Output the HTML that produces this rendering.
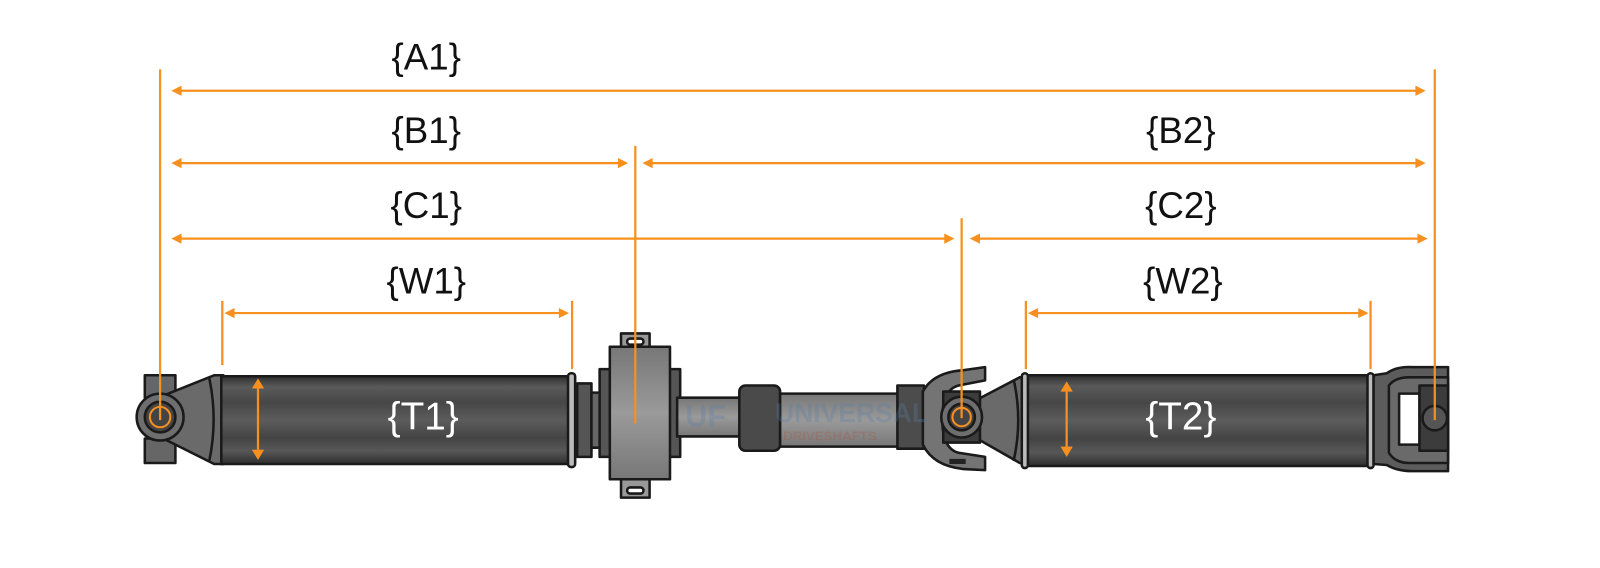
<!DOCTYPE html>
<html><head><meta charset="utf-8">
<style>
html,body{margin:0;padding:0;background:#fff;}
svg{display:block;}
text{font-family:"Liberation Sans",sans-serif;}
</style></head>
<body>
<svg width="1600" height="568" viewBox="0 0 1569 557" xmlns="http://www.w3.org/2000/svg">
<defs>
<linearGradient id="tube" x1="0" y1="0" x2="0" y2="1">
<stop offset="0" stop-color="#2e2e2e"/>
<stop offset="0.12" stop-color="#5a5a5a"/>
<stop offset="0.3" stop-color="#474747"/>
<stop offset="0.5" stop-color="#5c5c5c"/>
<stop offset="0.7" stop-color="#444"/>
<stop offset="0.85" stop-color="#575757"/>
<stop offset="1" stop-color="#2e2e2e"/>
</linearGradient>
<linearGradient id="lt" x1="0" y1="0" x2="0" y2="1">
<stop offset="0" stop-color="#777"/>
<stop offset="0.5" stop-color="#9a9a9a"/>
<stop offset="1" stop-color="#777"/>
</linearGradient>
</defs>

<g stroke="#1a1a1a" stroke-width="2.5" stroke-linejoin="round">
<rect x="142" y="368" width="30" height="22" fill="#666"/>
<rect x="142" y="430" width="30" height="24" fill="#666"/>
<polygon points="160,388 210,368 219,368 219,455 210,455 160,430" fill="#6a6a6a"/>
<path d="M205,370 Q214,411 205,453" fill="none"/>
<circle cx="157" cy="409" r="23" fill="#6e6e6e"/>
<circle cx="157" cy="409" r="15" fill="#444"/>
<circle cx="157" cy="409" r="10" fill="#444" stroke="#f7901e" stroke-width="2"/>
<rect x="217" y="369" width="344" height="86" fill="url(#tube)"/>
<rect x="557" y="366" width="7" height="92" rx="3" fill="#bbb"/>
<rect x="566" y="376" width="14" height="72" fill="#555"/>
<rect x="580" y="385" width="18" height="54" fill="#666"/>
<rect x="609" y="327" width="28" height="16" fill="#999"/>
<rect x="609" y="470" width="28" height="18" fill="#999"/>
<rect x="615" y="332" width="16" height="6" rx="3" fill="#fff"/>
<rect x="615" y="478" width="16" height="6" rx="3" fill="#fff"/>
<rect x="588" y="362" width="12" height="86" fill="#555"/>
<rect x="655" y="362" width="12" height="86" fill="#555"/>
<rect x="598" y="340" width="59" height="130" fill="url(#lt)"/>
<rect x="664" y="390" width="64" height="38" fill="url(#lt)"/>
<rect x="725" y="378" width="40" height="64" rx="6" fill="#4a4a4a"/>
<rect x="765" y="386" width="116" height="52" fill="url(#lt)"/>
<rect x="880" y="378" width="26" height="62" fill="#4c4c4c"/>
<path d="M905,384 Q915,365 945,363 L966,360 L966,373 L940,378 Q924,382 924,411 Q924,440 940,444 L966,448 L966,461 L945,460 Q915,457 905,436 Z" fill="#747474"/>
<rect x="931" y="450" width="16" height="5" fill="#222" stroke="none"/>
<polygon points="958,392 1000,370 1006,370 1006,454 1000,454 958,430" fill="#6a6a6a"/>
<path d="M994,372 Q1003,412 994,452" fill="none"/>
<rect x="925" y="384" width="36" height="50" fill="#3c3c3c"/>
<circle cx="943" cy="409" r="20" fill="#6e6e6e"/>
<circle cx="943" cy="409" r="13" fill="#444"/>
<circle cx="943" cy="409" r="9" fill="#444" stroke="#f7901e" stroke-width="2"/>
<rect x="1004" y="368" width="340" height="89" fill="url(#tube)"/>
<rect x="1002" y="366" width="6" height="93" rx="3" fill="#bbb"/>
<rect x="1341" y="366" width="6" height="93" rx="3" fill="#bbb"/>
<path d="M1347,368 L1360,366 Q1370,359 1385,360 L1420,360 L1420,462 L1385,462 Q1370,462 1360,456 L1347,455 Z" fill="#5c5c5c"/>
<path d="M1362,378 Q1368,370 1382,370 L1420,370 L1420,454 L1382,454 Q1368,454 1362,444 Z" fill="#6a6a6a"/>
<rect x="1372" y="386" width="20" height="50" fill="#fff"/>
<rect x="1392" y="378" width="28" height="64" fill="#3c3c3c"/>
<circle cx="1407" cy="410" r="12" fill="#555"/>
</g>

<text x="672" y="418" font-size="30" font-weight="bold" fill="#5b7fa8" opacity="0.3">UF</text>
<text x="760" y="414" font-size="26" font-weight="bold" fill="#5b7fa8" opacity="0.3">UNIVERSAL</text>
<text x="768" y="432" font-size="13" font-weight="bold" fill="#b05030" opacity="0.25">DRIVESHAFTS</text>

<text x="415" y="421" font-size="38" fill="#fff" text-anchor="middle">{T1}</text>
<text x="1158" y="421" font-size="38" fill="#fff" text-anchor="middle">{T2}</text>

<g stroke="#f7901e" stroke-width="2.2" fill="none">
<line x1="157" y1="68" x2="157" y2="412"/>
<line x1="1407" y1="68" x2="1407" y2="412"/>
<line x1="623" y1="143" x2="623" y2="415"/>
<line x1="943" y1="214" x2="943" y2="410"/>
<line x1="218" y1="295" x2="218" y2="358"/>
<line x1="561" y1="295" x2="561" y2="362"/>
<line x1="1006" y1="295" x2="1006" y2="362"/>
<line x1="1344" y1="295" x2="1344" y2="362"/>
<line x1="172" y1="89" x2="1394" y2="89"/>
<line x1="172" y1="160" x2="612" y2="160"/>
<line x1="634" y1="160" x2="1394" y2="160"/>
<line x1="172" y1="234" x2="932" y2="234"/>
<line x1="955" y1="234" x2="1396" y2="234"/>
<line x1="224" y1="307" x2="554" y2="307"/>
<line x1="1012" y1="307" x2="1338" y2="307"/>
<line x1="253" y1="376" x2="253" y2="446"/>
<line x1="1046" y1="379" x2="1046" y2="443"/>
</g>
<g fill="#f7901e">
<polygon points="168,89 178,84 178,94"/><polygon points="1398,89 1388,84 1388,94"/>
<polygon points="168,160 178,155 178,165"/><polygon points="616,160 606,155 606,165"/>
<polygon points="630,160 640,155 640,165"/><polygon points="1398,160 1388,155 1388,165"/>
<polygon points="168,234 178,229 178,239"/><polygon points="936,234 926,229 926,239"/>
<polygon points="951,234 961,229 961,239"/><polygon points="1400,234 1390,229 1390,239"/>
<polygon points="220,307 230,302 230,312"/><polygon points="558,307 548,302 548,312"/>
<polygon points="1008,307 1018,302 1018,312"/><polygon points="1342,307 1332,302 1332,312"/>
<polygon points="253,371 247,381 259,381"/><polygon points="253,451 247,441 259,441"/>
<polygon points="1046,374 1040,384 1052,384"/><polygon points="1046,448 1040,438 1052,438"/>
</g>

<g font-size="36" fill="#111" text-anchor="middle">
<text x="418" y="68">{A1}</text>
<text x="418" y="140">{B1}</text>
<text x="1158" y="140">{B2}</text>
<text x="418" y="214">{C1}</text>
<text x="1158" y="214">{C2}</text>
<text x="418" y="288">{W1}</text>
<text x="1160" y="288">{W2}</text>
</g>
</svg>
</body></html>
